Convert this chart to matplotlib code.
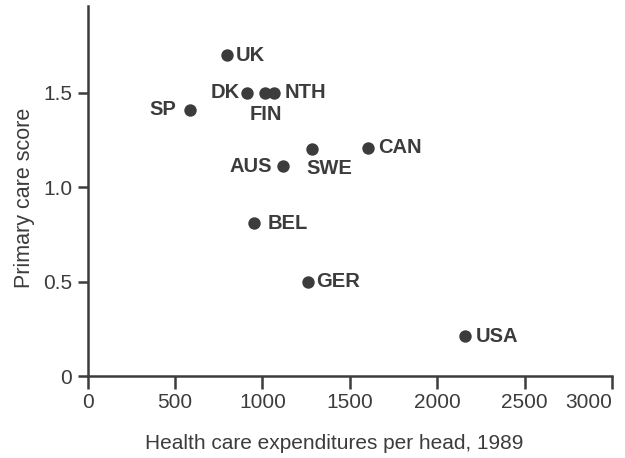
import matplotlib
matplotlib.use("Agg")
import matplotlib.pyplot as plt

countries = ["UK", "DK", "FIN", "NTH", "SP", "SWE", "CAN", "AUS", "BEL", "GER", "USA"]
expenditure = [797, 912, 1015, 1066, 585, 1283, 1604, 1118, 952, 1261, 2159]
score = [1.70, 1.50, 1.50, 1.50, 1.41, 1.20, 1.21, 1.11, 0.81, 0.50, 0.21]

x_ticks = [0, 500, 1000, 1500, 2000, 2500, 3000]
y_ticks = [0, 0.5, 1.0, 1.5]
y_ticklabels = ["0", "0.5", "1.0", "1.5"]

# label placement: (dx px, dy px, ha, va)
placement = {
    "UK": (9, 0, "left", "center"),
    "DK": (-7, 0, "right", "center"),
    "FIN": (1, -22, "center", "center"),
    "NTH": (11, 0, "left", "center"),
    "SP": (-14, 0, "right", "center"),
    "SWE": (-6, -19, "left", "center"),
    "CAN": (10, 0, "left", "center"),
    "AUS": (-11, 0, "right", "center"),
    "BEL": (14, 0, "left", "center"),
    "GER": (8, 0, "left", "center"),
    "USA": (11, 0, "left", "center"),
}

col = "#3c3c3c"
plt.rcParams["font.family"] = ["Liberation Sans", "DejaVu Sans"]

fig = plt.figure(figsize=(6.25, 4.58), dpi=100)
ax = fig.add_axes([0.1403, 0.179, 0.9792 - 0.1403, 0.9869 - 0.179])

ax.scatter(expenditure, score, s=80, color=col, zorder=3, linewidths=0)
px2pt = 72 / 100
for c, xv, yv in zip(countries, expenditure, score):
    dx, dy, ha, va = placement[c]
    ax.annotate(c, (xv, yv), xytext=(dx * px2pt, dy * px2pt), textcoords="offset points",
                ha=ha, va=va, fontsize=14.5, fontweight="bold", color=col)

ax.set_xlim(0, 3000)
ax.set_ylim(0, 1.96)
ax.set_xticks(x_ticks)
ax.set_yticks(y_ticks)
ax.set_yticklabels(y_ticklabels)
for s in ["top", "right"]:
    ax.spines[s].set_visible(False)
for s in ["left", "bottom"]:
    ax.spines[s].set_linewidth(1.8)
    ax.spines[s].set_color(col)
ax.tick_params(axis="x", length=9.4, width=1.8, color=col, labelsize=15, labelcolor=col, pad=3)
ax.tick_params(axis="y", length=7.2, width=1.8, color=col, labelsize=15, labelcolor=col, pad=4)
ax.xaxis.get_majorticklabels()[-1].set_horizontalalignment("right")

ax.set_xlabel("Health care expenditures per head, 1989", fontsize=15, color=col)
ax.xaxis.set_label_coords(0.47, -0.157)
ax.set_ylabel("Primary care score", fontsize=15.5, color=col)
ax.yaxis.set_label_coords(-0.10, 0.481)

fig.savefig("out.png", dpi=100)
